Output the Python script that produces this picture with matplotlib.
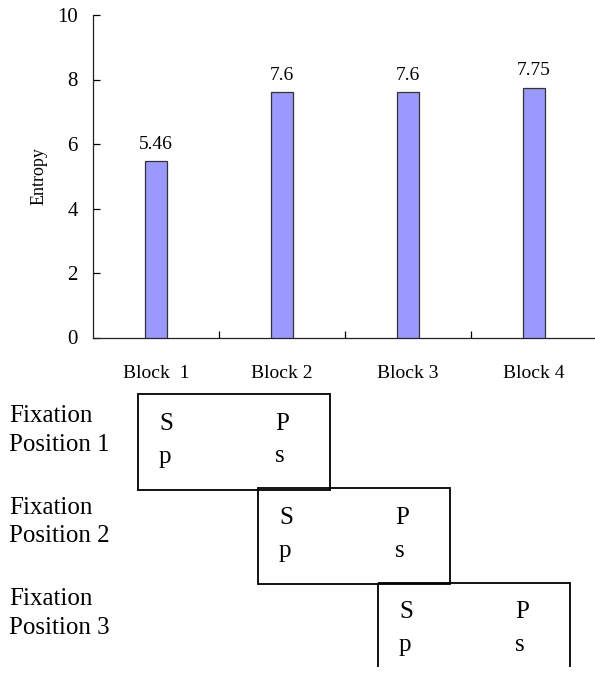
import numpy as np
import matplotlib.pyplot as plt
from matplotlib.patches import Rectangle

plt.rcParams['font.family'] = ['Liberation Serif', 'DejaVu Serif']

blocks = ["Block  1", "Block 2", "Block 3", "Block 4"]
entropy = [5.46, 7.6, 7.6, 7.75]
value_labels = ["5.46", "7.6", "7.6", "7.75"]
y_ticks = [0, 2, 4, 6, 8, 10]

fixation_labels = ["Fixation\nPosition 1", "Fixation\nPosition 2", "Fixation\nPosition 3"]
box_letters = [["S", "P"], ["p", "s"]]

W, H = 595, 677
fig = plt.figure(figsize=(W / 100, H / 100), dpi=100)

# bar chart, placed by pixel layout
ax = fig.add_axes([93 / W, 1 - 337.5 / H, 504 / W, 322.5 / H])
x = np.arange(len(blocks))
ax.bar(x, entropy, width=0.167, color="#9999FF", edgecolor="#333333", linewidth=0.9, zorder=3)
for xi, v, s in zip(x, entropy, value_labels):
    ax.annotate(s, (xi, v), xytext=(0, 6), textcoords="offset points",
                ha="center", va="bottom", fontsize=14)

ax.set_xlim(-0.5, 3.5)
ax.set_ylim(0, 10)
ax.set_yticks(y_ticks)
ax.tick_params(axis="y", direction="in", length=5, width=0.9, labelsize=15, pad=11)
ax.set_xticks(x, blocks)
ax.tick_params(axis="x", which="major", length=0, labelsize=14, pad=20)
ax.set_xticks(x[:-1] + 0.5, minor=True)
ax.tick_params(axis="x", which="minor", direction="in", length=5, width=0.9)
for side in ["top", "right"]:
    ax.spines[side].set_visible(False)
for side in ["left", "bottom"]:
    ax.spines[side].set_linewidth(0.9)
    ax.spines[side].set_color("#222222")

ax.set_ylabel("Entropy", fontsize=13)
ax.yaxis.label.set_verticalalignment("center")
ax.yaxis.set_label_coords((39 - 93) / 504, 0.5)

# fixation diagram in pixel coordinates
ax2 = fig.add_axes([0, 0, 1, 1], zorder=-1)
ax2.set_xlim(0, W)
ax2.set_ylim(H, 0)
ax2.axis("off")
clip = Rectangle((0, 0), W, 667, transform=ax2.transData, visible=False)
ax2.add_patch(clip)

box_w, box_h = 192, 96
for i, lab in enumerate(fixation_labels):
    bx = 138 + 120 * i
    by = 394 + 94.3 * i
    box = Rectangle((bx, by), box_w, box_h, fill=False, edgecolor="black", linewidth=1.3)
    ax2.add_patch(box)
    box.set_clip_path(clip)
    line1, line2 = lab.split("\n")
    ty = 422 + 91.5 * i
    ax2.text(9, ty, line1, fontsize=18, ha="left", va="baseline")
    ax2.text(9, ty + 29, line2, fontsize=18, ha="left", va="baseline")
    for r, row in enumerate(box_letters):
        for c, ch in enumerate(row):
            ax2.text(bx + 21 + 116 * c, by + 35.5 + 33 * r, ch, fontsize=18,
                     ha="left", va="baseline")

fig.savefig("out.png", dpi=100)
